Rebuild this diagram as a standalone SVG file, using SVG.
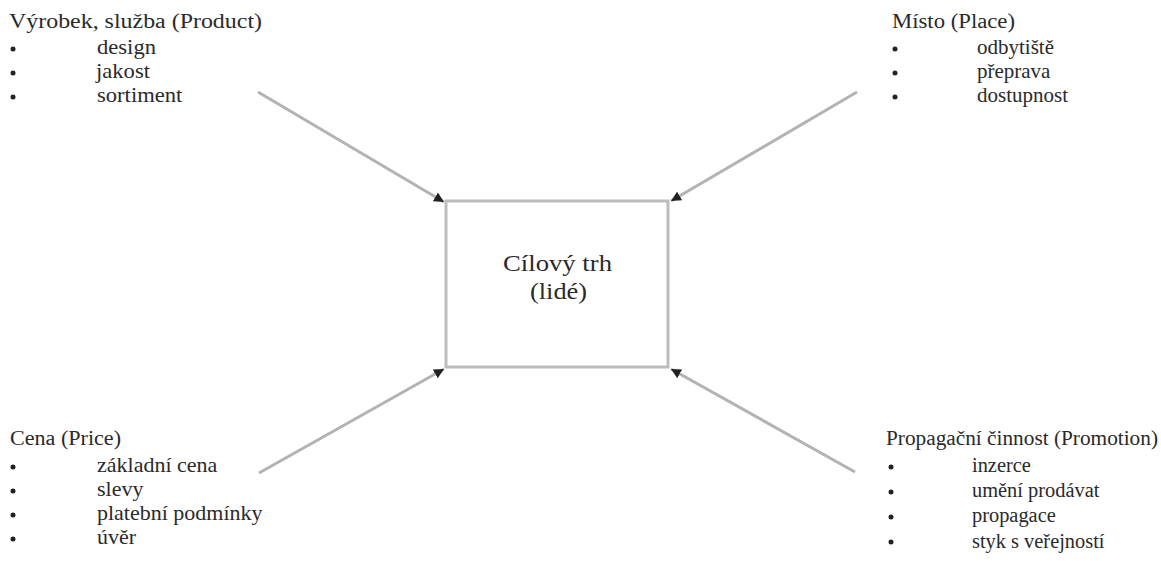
<svg xmlns="http://www.w3.org/2000/svg" width="1161" height="561" viewBox="0 0 1161 561">
<style>
text{font-family:"Liberation Serif","Times New Roman",serif;fill:#2a2a2a;}
.t{font-size:20px;}
.c{font-size:24px;}
.conn{stroke:#b3b3b3;stroke-width:3;fill:none;}
.b{fill:#222;}
</style>
<defs>
<marker id="ah" markerUnits="userSpaceOnUse" markerWidth="12" markerHeight="10" refX="10" refY="5" orient="auto">
<path d="M0,0 L10,5 L0,10 z" fill="#222"/>
</marker>
</defs>
<rect width="1161" height="561" fill="#fff"/>
<g id="connectors">
<line class="conn" x1="258" y1="92" x2="444" y2="202" marker-end="url(#ah)"/>
<line class="conn" x1="857" y1="92" x2="671" y2="201" marker-end="url(#ah)"/>
<line class="conn" x1="259" y1="473" x2="444" y2="369" marker-end="url(#ah)"/>
<line class="conn" x1="855" y1="472" x2="671" y2="369" marker-end="url(#ah)"/>
</g>
<g id="target">
<rect x="446" y="201" width="222" height="166" fill="#fff" stroke="#bdbdbd" stroke-width="3"/>
<text class="c" x="503" y="271" textLength="109" lengthAdjust="spacingAndGlyphs">Cílový trh</text>
<text class="c" x="530" y="299" textLength="57" lengthAdjust="spacingAndGlyphs">(lidé)</text>
</g>
<g id="product">
<text class="t" x="9" y="28" textLength="253" lengthAdjust="spacingAndGlyphs">Výrobek, služba (Product)</text>
<circle class="b" cx="13" cy="49" r="2.5"/>
<circle class="b" cx="13" cy="73" r="2.5"/>
<circle class="b" cx="13" cy="97" r="2.5"/>
<text class="t" transform="translate(97,54) scale(1.13,1)">design</text>
<text class="t" transform="translate(96,78) scale(1.13,1)">jakost</text>
<text class="t" transform="translate(97,102) scale(1.13,1)">sortiment</text>
</g>
<g id="place">
<text class="t" x="892" y="28" textLength="123" lengthAdjust="spacingAndGlyphs">Místo (Place)</text>
<circle class="b" cx="895" cy="49" r="2.5"/>
<circle class="b" cx="895" cy="73" r="2.5"/>
<circle class="b" cx="895" cy="97" r="2.5"/>
<text class="t" transform="translate(977,54) scale(1.05,1)">odbytiště</text>
<text class="t" transform="translate(977,78) scale(1.05,1)">přeprava</text>
<text class="t" transform="translate(977,102) scale(1.05,1)">dostupnost</text>
</g>
<g id="price">
<text class="t" x="10" y="445" textLength="111" lengthAdjust="spacingAndGlyphs">Cena (Price)</text>
<circle class="b" cx="13" cy="467" r="2.5"/>
<circle class="b" cx="13" cy="491" r="2.5"/>
<circle class="b" cx="13" cy="515" r="2.5"/>
<circle class="b" cx="13" cy="539" r="2.5"/>
<text class="t" transform="translate(97,472) scale(1.1,1)">základní cena</text>
<text class="t" transform="translate(97,496) scale(1.1,1)">slevy</text>
<text class="t" transform="translate(97,520) scale(1.1,1)">platební podmínky</text>
<text class="t" transform="translate(97,544) scale(1.1,1)">úvěr</text>
</g>
<g id="promotion">
<text class="t" x="886" y="445" textLength="272" lengthAdjust="spacingAndGlyphs">Propagační činnost (Promotion)</text>
<circle class="b" cx="891" cy="467" r="2.5"/>
<circle class="b" cx="891" cy="492" r="2.5"/>
<circle class="b" cx="891" cy="517" r="2.5"/>
<circle class="b" cx="891" cy="542" r="2.5"/>
<text class="t" transform="translate(972,472) scale(1.02,1)">inzerce</text>
<text class="t" transform="translate(972,497) scale(1.02,1)">umění prodávat</text>
<text class="t" transform="translate(972,522) scale(1.02,1)">propagace</text>
<text class="t" transform="translate(972,548) scale(1.02,1)">styk s veřejností</text>
</g>
</svg>
